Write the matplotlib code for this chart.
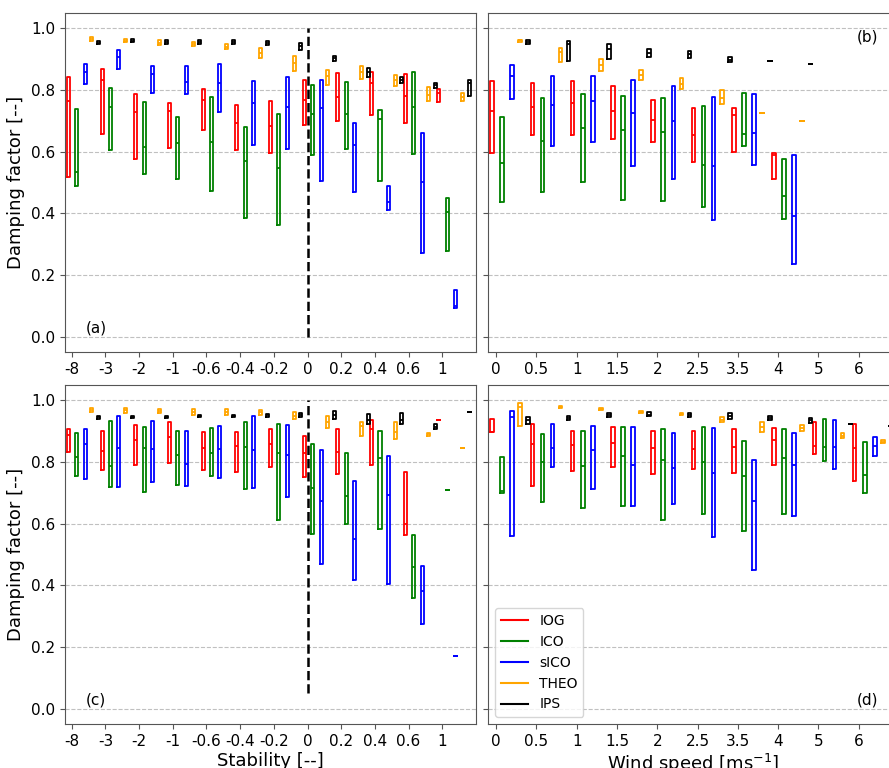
import matplotlib
matplotlib.use('Agg')
import matplotlib.pyplot as plt
from matplotlib.lines import Line2D

# each entry is (q1, median, q3) of the damping factor, None = no data

stab_labels = ['-8', '-3', '-2', '-1', '-0.6', '-0.4', '-0.2', '0', '0.2', '0.4', '0.6', '1']
wind_labels = ['0', '0.5', '1', '1.5', '2', '2.5', '3.5', '4', '5', '6']

series_names = ['IOG', 'ICO', 'sICO', 'THEO', 'IPS']
series_colors = ['red', 'green', 'blue', 'orange', 'black']

# panel (a): stability
a_iog = [(0.519, 0.763, 0.842), (0.656, 0.834, 0.867), (0.577, 0.728, 0.786), (0.613, 0.731, 0.758),
         (0.669, 0.769, 0.804), (0.607, 0.694, 0.750), (0.595, 0.683, 0.763), (0.685, 0.768, 0.834),
         (0.701, 0.777, 0.856), (0.718, 0.824, 0.860), (0.693, 0.780, 0.853), (0.760, 0.792, 0.803)]
a_ico = [(0.490, 0.534, 0.739), (0.604, 0.745, 0.807), (0.526, 0.615, 0.761), (0.512, 0.629, 0.714),
         (0.474, 0.633, 0.777), (0.384, 0.569, 0.680), (0.363, 0.548, 0.721), (0.588, 0.723, 0.815),
         (0.609, 0.723, 0.826), (0.506, 0.705, 0.734), (0.591, 0.745, 0.858), (0.279, 0.404, 0.449)]
a_sico = [(0.820, 0.860, 0.885), (0.867, 0.907, 0.931), (0.790, 0.853, 0.878), (0.788, 0.825, 0.878),
          (0.728, 0.824, 0.885), (0.622, 0.758, 0.828), (0.609, 0.745, 0.842), (0.506, 0.741, 0.834),
          (0.469, 0.622, 0.693), (0.412, 0.436, 0.488), (0.272, 0.501, 0.660), (0.094, 0.100, 0.152)]
a_theo = [(0.959, 0.966, 0.972), (0.956, 0.960, 0.965), (0.945, 0.953, 0.963), (0.944, 0.950, 0.956),
          (0.934, 0.941, 0.948), (0.905, 0.921, 0.937), (0.861, 0.887, 0.912), (0.815, 0.845, 0.864),
          (0.837, 0.858, 0.878), (0.812, 0.833, 0.850), (0.766, 0.785, 0.810), (0.763, 0.776, 0.789)]
a_ips = [(0.948, 0.953, 0.958), (0.956, 0.960, 0.966), (0.950, 0.957, 0.963), (0.950, 0.956, 0.961),
         (0.948, 0.955, 0.961), (0.947, 0.953, 0.959), (0.931, 0.942, 0.953), (0.894, 0.903, 0.912),
         (0.842, 0.858, 0.872), (0.823, 0.832, 0.842), (0.807, 0.815, 0.823), (0.782, 0.822, 0.831)]

# panel (b): wind speed
b_iog = [(0.596, 0.731, 0.829), (0.655, 0.745, 0.824), (0.653, 0.758, 0.828), (0.640, 0.731, 0.812),
         (0.633, 0.703, 0.768), (0.568, 0.655, 0.742), (0.598, 0.718, 0.742), (0.510, 0.588, 0.595),
         None, None]
b_ico = [(0.436, 0.563, 0.712), (0.469, 0.636, 0.775), (0.501, 0.677, 0.788), (0.442, 0.671, 0.782),
         (0.439, 0.663, 0.774), (0.422, 0.557, 0.747), (0.620, 0.658, 0.790), (0.380, 0.456, 0.575),
         None, None]
b_sico = [(0.772, 0.845, 0.880), (0.620, 0.750, 0.847), (0.633, 0.763, 0.844), (0.553, 0.725, 0.831),
          (0.512, 0.698, 0.813), (0.377, 0.553, 0.777), (0.557, 0.661, 0.788), (0.236, 0.390, 0.588),
          None, None]
b_theo = [(0.957, 0.961, 0.964), (0.891, 0.923, 0.937), (0.861, 0.882, 0.902), (0.833, 0.850, 0.866),
          (0.802, 0.820, 0.840), (0.755, 0.775, 0.801), (0.725, 0.725, 0.725), (0.701, 0.701, 0.701),
          None, None]
b_ips = [(0.950, 0.957, 0.964), (0.894, 0.950, 0.959), (0.902, 0.934, 0.950), (0.907, 0.920, 0.932),
         (0.905, 0.916, 0.926), (0.891, 0.898, 0.907), (0.893, 0.893, 0.893), (0.883, 0.883, 0.883),
         None, None]

# panel (c): stability
c_iog = [(0.833, 0.887, 0.908), (0.775, 0.835, 0.900), (0.790, 0.870, 0.919), (0.797, 0.881, 0.929),
         (0.773, 0.844, 0.898), (0.768, 0.851, 0.898), (0.784, 0.857, 0.906), (0.752, 0.830, 0.886),
         (0.761, 0.832, 0.906), (0.789, 0.906, 0.938), (0.562, 0.599, 0.767), (0.938, 0.938, 0.938)]
c_ico = [(0.754, 0.816, 0.895), (0.719, 0.786, 0.933), (0.703, 0.844, 0.914), (0.725, 0.822, 0.900),
         (0.756, 0.830, 0.909), (0.714, 0.849, 0.931), (0.613, 0.830, 0.922), (0.567, 0.716, 0.857),
         (0.600, 0.689, 0.830), (0.584, 0.813, 0.900), (0.358, 0.461, 0.564), (0.708, 0.708, 0.708)]
c_sico = [(0.745, 0.857, 0.908), (0.718, 0.844, 0.951), (0.734, 0.841, 0.933), (0.721, 0.794, 0.900),
          (0.748, 0.843, 0.916), (0.716, 0.838, 0.949), (0.685, 0.824, 0.919), (0.469, 0.675, 0.838),
          (0.418, 0.550, 0.738), (0.403, 0.692, 0.821), (0.274, 0.380, 0.464), (0.172, 0.172, 0.172)]
c_theo = [(0.963, 0.970, 0.976), (0.960, 0.968, 0.976), (0.958, 0.965, 0.973), (0.954, 0.963, 0.973),
          (0.954, 0.963, 0.973), (0.954, 0.961, 0.969), (0.941, 0.951, 0.962), (0.911, 0.931, 0.949),
          (0.884, 0.916, 0.931), (0.876, 0.898, 0.929), (0.886, 0.890, 0.895), (0.846, 0.846, 0.846)]
c_ips = [(0.941, 0.945, 0.949), (0.943, 0.946, 0.949), (0.944, 0.946, 0.949), (0.946, 0.949, 0.952),
         (0.946, 0.950, 0.954), (0.947, 0.952, 0.957), (0.947, 0.952, 0.958), (0.941, 0.954, 0.965),
         (0.925, 0.938, 0.957), (0.922, 0.938, 0.960), (0.908, 0.915, 0.922), (0.964, 0.964, 0.964)]

# panel (d): wind speed
d_iog = [(0.898, 0.898, 0.940), (0.723, 0.859, 0.922), (0.770, 0.854, 0.900), (0.783, 0.862, 0.913),
         (0.761, 0.844, 0.902), (0.779, 0.841, 0.902), (0.764, 0.849, 0.908), (0.790, 0.871, 0.912),
         (0.826, 0.853, 0.929), (0.740, 0.846, 0.922)]
d_ico = [(0.701, 0.707, 0.817), (0.669, 0.799, 0.892), (0.651, 0.786, 0.900), (0.658, 0.821, 0.913),
         (0.611, 0.806, 0.908), (0.631, 0.800, 0.913), (0.575, 0.756, 0.868), (0.631, 0.813, 0.908),
         (0.802, 0.848, 0.940), (0.701, 0.759, 0.864)]
d_sico = [(0.559, 0.946, 0.965), (0.783, 0.844, 0.924), (0.714, 0.838, 0.916), (0.658, 0.792, 0.913),
          (0.665, 0.781, 0.895), (0.556, 0.765, 0.911), (0.450, 0.672, 0.806), (0.626, 0.792, 0.895),
          (0.777, 0.849, 0.938), (0.821, 0.853, 0.882)]
d_theo = [(0.916, 0.980, 0.992), (0.976, 0.980, 0.983), (0.970, 0.973, 0.976), (0.959, 0.963, 0.967),
          (0.953, 0.956, 0.959), (0.929, 0.938, 0.947), (0.898, 0.913, 0.929), (0.900, 0.910, 0.919),
          (0.878, 0.886, 0.894), (0.861, 0.865, 0.870)]
d_ips = [(0.925, 0.936, 0.947), (0.937, 0.943, 0.949), (0.947, 0.953, 0.960), (0.948, 0.954, 0.961),
         (0.947, 0.952, 0.958), (0.941, 0.950, 0.958), (0.935, 0.943, 0.951), (0.928, 0.936, 0.944),
         (0.925, 0.925, 0.925), (0.916, 0.916, 0.916)]

# offset of each series inside a group
offsets = [-0.1, 0.15, 0.4, 0.6, 0.8]
box_width = 0.09


def draw_panel(ax, data, labels, letter, letter_pos):
    for k, values in enumerate(data):
        stats = []
        pos = []
        for i, v in enumerate(values):
            if v is None:
                continue
            q1, med, q3 = v
            stats.append({'q1': q1, 'med': med, 'q3': q3, 'whislo': q1, 'whishi': q3, 'fliers': []})
            pos.append(i + offsets[k])
        col = series_colors[k]
        ax.bxp(stats, positions=pos, widths=box_width, showcaps=False, showfliers=False,
               manage_ticks=False,
               boxprops=dict(color=col, linewidth=1.3),
               medianprops=dict(color=col, linewidth=1.3),
               whiskerprops=dict(linewidth=0))

    ax.set_xlim(-0.2, len(labels))
    ax.set_xticks(range(len(labels)))
    ax.set_xticklabels(labels, fontsize=11)
    ax.set_ylim(-0.05, 1.05)
    ax.set_yticks([0.0, 0.2, 0.4, 0.6, 0.8, 1.0])
    ax.yaxis.grid(True, linestyle='--', color='#c0c0c0', linewidth=0.8)
    ax.set_axisbelow(True)
    for s in ax.spines.values():
        s.set_color('#555555')
    ax.tick_params(colors='#555555', labelcolor='black', labelsize=11)
    if letter_pos == 'bl':
        ax.text(0.05, 0.05, letter, transform=ax.transAxes, fontsize=11, ha='left', va='bottom')
    elif letter_pos == 'tr':
        ax.text(0.95, 0.95, letter, transform=ax.transAxes, fontsize=11, ha='right', va='top')
    else:
        ax.text(0.95, 0.05, letter, transform=ax.transAxes, fontsize=11, ha='right', va='bottom')


fig = plt.figure(figsize=(8.89, 7.68), dpi=100)
W, H = 889.0, 768.0
ax_a = fig.add_axes([65 / W, (H - 352) / H, 411 / W, 339 / H])
ax_b = fig.add_axes([488 / W, (H - 352) / H, 411 / W, 339 / H])
ax_c = fig.add_axes([65 / W, (H - 724) / H, 411 / W, 339 / H])
ax_d = fig.add_axes([488 / W, (H - 724) / H, 411 / W, 339 / H])

draw_panel(ax_a, [a_iog, a_ico, a_sico, a_theo, a_ips], stab_labels, '(a)', 'bl')
draw_panel(ax_b, [b_iog, b_ico, b_sico, b_theo, b_ips], wind_labels, '(b)', 'tr')
draw_panel(ax_c, [c_iog, c_ico, c_sico, c_theo, c_ips], stab_labels, '(c)', 'bl')
draw_panel(ax_d, [d_iog, d_ico, d_sico, d_theo, d_ips], wind_labels, '(d)', 'br')

# neutral stability marker
zero = stab_labels.index('0')
ax_a.plot([zero, zero], [0.0, 1.0], '--', color='black', linewidth=1.8)
ax_c.plot([zero, zero], [0.05, 1.0], '--', color='black', linewidth=1.8)

ax_b.set_yticklabels([])
ax_d.set_yticklabels([])
ax_a.set_ylabel('Damping factor [--]', fontsize=13)
ax_c.set_ylabel('Damping factor [--]', fontsize=13)
ax_c.set_xlabel('Stability [--]', fontsize=13, labelpad=2)
ax_d.set_xlabel('Wind speed [ms$^{-1}$]', fontsize=13, labelpad=2)

handles = [Line2D([], [], color=c, linewidth=1.5) for c in series_colors]
ax_d.legend(handles, series_names, loc='lower left', fontsize=10)

fig.savefig('out.png', dpi=100)
